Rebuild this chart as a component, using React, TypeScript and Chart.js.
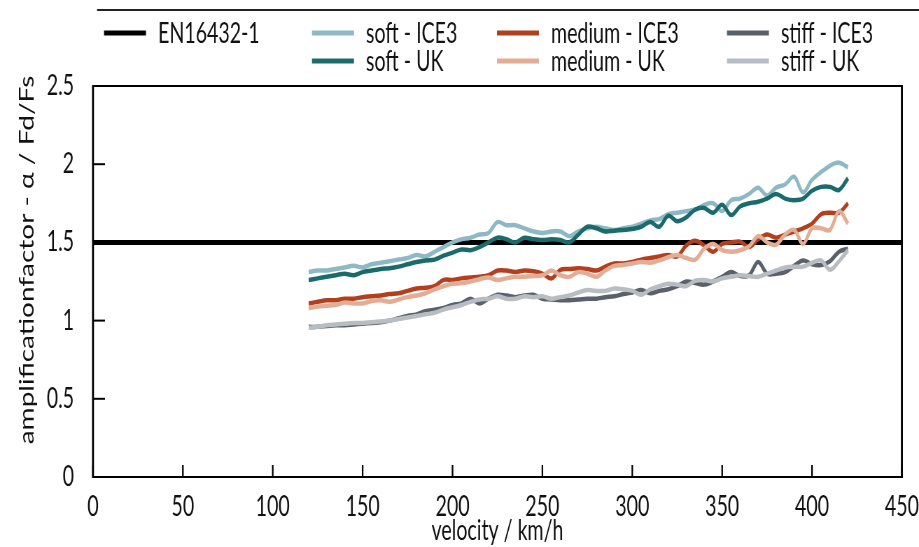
import React, { useEffect, useRef } from "react";
import { Chart, registerables } from "chart.js";

Chart.register(...registerables);

// ---------- data ----------
const velocity = [
  120, 125, 130, 135, 140, 145, 150, 155, 160, 165,
  170, 175, 180, 185, 190, 195, 200, 205, 210, 215,
  220, 225, 230, 235, 240, 245, 250, 255, 260, 265,
  270, 275, 280, 285, 290, 295, 300, 305, 310, 315,
  320, 325, 330, 335, 340, 345, 350, 355, 360, 365,
  370, 375, 380, 385, 390, 395, 400, 405, 410, 415, 420,
];

const softICE3 = [
  1.31, 1.32, 1.32, 1.33, 1.34, 1.35, 1.34, 1.36, 1.37, 1.38,
  1.39, 1.40, 1.42, 1.41, 1.44, 1.47, 1.50, 1.52, 1.53, 1.55,
  1.56, 1.63, 1.61, 1.61, 1.59, 1.57, 1.56, 1.57, 1.57, 1.54,
  1.57, 1.59, 1.60, 1.59, 1.58, 1.59, 1.60, 1.62, 1.64, 1.65,
  1.68, 1.69, 1.70, 1.71, 1.74, 1.75, 1.70, 1.77, 1.78, 1.81,
  1.85, 1.80, 1.85, 1.87, 1.92, 1.82, 1.90, 1.95, 1.99, 2.01, 1.98,
];
const softUK = [
  1.26, 1.27, 1.28, 1.29, 1.30, 1.29, 1.31, 1.32, 1.33, 1.335,
  1.345, 1.36, 1.375, 1.385, 1.39, 1.415, 1.435, 1.455, 1.45, 1.47,
  1.50, 1.53, 1.52, 1.50, 1.53, 1.52, 1.515, 1.52, 1.515, 1.50,
  1.55, 1.60, 1.59, 1.57, 1.575, 1.58, 1.585, 1.60, 1.63, 1.60,
  1.67, 1.635, 1.66, 1.71, 1.72, 1.69, 1.74, 1.675, 1.73, 1.75,
  1.76, 1.78, 1.81, 1.78, 1.77, 1.78, 1.83, 1.855, 1.855, 1.835, 1.91,
];
const mediumICE3 = [
  1.11, 1.12, 1.13, 1.13, 1.14, 1.14, 1.15, 1.155, 1.16, 1.17,
  1.175, 1.19, 1.205, 1.21, 1.22, 1.26, 1.26, 1.27, 1.275, 1.28,
  1.29, 1.32, 1.32, 1.31, 1.32, 1.315, 1.30, 1.27, 1.325, 1.33,
  1.335, 1.33, 1.32, 1.345, 1.365, 1.365, 1.375, 1.39, 1.40, 1.41,
  1.42, 1.41, 1.48, 1.51, 1.48, 1.44, 1.49, 1.50, 1.505, 1.47,
  1.52, 1.55, 1.53, 1.55, 1.57, 1.59, 1.62, 1.68, 1.69, 1.69, 1.75,
];
const mediumUK = [
  1.08, 1.09, 1.095, 1.10, 1.115, 1.11, 1.11, 1.125, 1.13, 1.12,
  1.135, 1.15, 1.16, 1.175, 1.20, 1.22, 1.235, 1.24, 1.25, 1.265,
  1.275, 1.26, 1.27, 1.28, 1.28, 1.285, 1.29, 1.32, 1.29, 1.28,
  1.31, 1.30, 1.28, 1.32, 1.35, 1.355, 1.365, 1.375, 1.37, 1.385,
  1.405, 1.42, 1.40, 1.39, 1.46, 1.49, 1.45, 1.44, 1.45, 1.475,
  1.54, 1.50, 1.485, 1.55, 1.58, 1.49, 1.59, 1.59, 1.58, 1.70, 1.62,
];
const stiffICE3 = [
  0.96, 0.96, 0.965, 0.97, 0.97, 0.975, 0.98, 0.985, 0.99, 1.00,
  1.015, 1.03, 1.04, 1.06, 1.07, 1.08, 1.10, 1.11, 1.14, 1.11,
  1.14, 1.165, 1.16, 1.15, 1.16, 1.165, 1.14, 1.135, 1.13, 1.13,
  1.135, 1.14, 1.14, 1.15, 1.155, 1.17, 1.18, 1.195, 1.175, 1.19,
  1.20, 1.22, 1.25, 1.24, 1.23, 1.25, 1.28, 1.31, 1.285, 1.29,
  1.375, 1.30, 1.30, 1.31, 1.35, 1.385, 1.36, 1.355, 1.38, 1.44, 1.46,
];
const stiffUK = [
  0.955, 0.96, 0.97, 0.975, 0.98, 0.985, 0.985, 0.99, 0.995, 1.00,
  1.01, 1.02, 1.03, 1.04, 1.05, 1.07, 1.085, 1.10, 1.12, 1.135,
  1.14, 1.155, 1.14, 1.14, 1.155, 1.15, 1.155, 1.14, 1.15, 1.16,
  1.18, 1.195, 1.19, 1.19, 1.205, 1.20, 1.19, 1.165, 1.20, 1.22,
  1.235, 1.23, 1.22, 1.255, 1.26, 1.25, 1.27, 1.28, 1.29, 1.285,
  1.28, 1.30, 1.32, 1.34, 1.345, 1.345, 1.37, 1.385, 1.325, 1.38, 1.45,
];

const enVelocity = [0, 450];
const enValues = [1.5, 1.5];

const xTicks = [0, 50, 100, 150, 200, 250, 300, 350, 400, 450];
const yTicks = [0, 0.5, 1, 1.5, 2, 2.5];
const yTickLabels = ["0", "0.5", "1", "1.5", "2", "2.5"];

const seriesNames = [
  "EN16432-1",
  "soft - ICE3",
  "medium - ICE3",
  "stiff - ICE3",
  "soft - UK",
  "medium - UK",
  "stiff - UK",
];
const seriesColors = [
  "#000000",
  "#8EB9C4",
  "#B2401E",
  "#59616A",
  "#1B6B6C",
  "#E3AC94",
  "#B8BDC2",
];
const seriesValues = [enValues, softICE3, mediumICE3, stiffICE3, softUK, mediumUK, stiffUK];

// ---------- layout ----------
const W = 919;
const H = 547;
const K = 0.7; // horizontal compression of the drawing
const VW = Math.round(W / K);
const FONT = "Lato, 'Open Sans', sans-serif";
const FS = 28;
const TXT = "#111111";

const App: React.FC = () => {
  const ref = useRef<HTMLCanvasElement | null>(null);

  useEffect(() => {
    document.body.style.margin = "0";
    const canvas = ref.current;
    if (!canvas) return;

    const pts = (xs: number[], ys: number[]) => xs.map((x, i) => ({ x, y: ys[i] }));

    const datasets = seriesValues.map((vals, i) => ({
      label: seriesNames[i],
      data: i === 0 ? pts(enVelocity, vals) : pts(velocity, vals),
      borderColor: seriesColors[i],
      backgroundColor: seriesColors[i],
      borderWidth: i === 0 ? 5 : 4.5,
      pointRadius: 0,
      tension: i === 0 ? 0 : 0.35,
      fill: false,
      order: i === 0 ? 3 : i <= 3 ? 2 : 1,
    }));

    const frame = {
      id: "frameAndLegend",
      afterDraw(chart: any) {
        const { ctx, chartArea: a, scales } = chart;
        const xs = scales.x;
        const ys = scales.y;
        const line = (x1: number, y1: number, x2: number, y2: number) => {
          ctx.beginPath();
          ctx.moveTo(x1, y1);
          ctx.lineTo(x2, y2);
          ctx.stroke();
        };
        ctx.save();
        ctx.strokeStyle = "#000";
        ctx.lineCap = "butt";
        // frame
        ctx.lineWidth = 2;
        line(a.left, a.top, a.right, a.top);
        line(a.left, a.bottom, a.right, a.bottom);
        ctx.lineWidth = 2 / K;
        line(a.left, a.top - 1, a.left, a.bottom + 1);
        line(a.right, a.top - 1, a.right, a.bottom + 1);
        // inward ticks
        ctx.lineWidth = 2;
        ys.ticks.forEach((t: any) => {
          const py = ys.getPixelForValue(t.value);
          line(a.left, py, a.left + 12 / K, py);
        });
        ctx.lineWidth = 1.6 / K;
        xs.ticks.forEach((t: any) => {
          const px = xs.getPixelForValue(t.value);
          line(px, a.bottom, px, a.bottom - 12);
        });

        // axis titles
        ctx.fillStyle = TXT;
        ctx.font = `${FS}px ${FONT}`;
        ctx.textAlign = "center";
        ctx.textBaseline = "middle";
        ctx.fillText("velocity / km/h", (a.left + a.right) / 2, 531);
        ctx.save();
        ctx.translate(27 / K, 260);
        ctx.rotate(-Math.PI / 2);
        ctx.fillText("amplificationfactor - \u03b1 / Fd/Fs", 0, 0);
        ctx.restore();

        // legend top rule
        ctx.lineWidth = 2;
        ctx.strokeStyle = "#222";
        line(97 / K, 10, VW, 10);

        // legend entries
        const cols = [104, 312, 497, 727];
        const rows = [33, 61];
        const slots = [
          [0, 0], [1, 0], [2, 0], [3, 0],
          [1, 1], [2, 1], [3, 1],
        ];
        ctx.textAlign = "left";
        slots.forEach(([c, r], i) => {
          const x0 = cols[c] / K;
          const yy = rows[r];
          ctx.strokeStyle = seriesColors[i];
          ctx.lineWidth = 5;
          line(x0, yy, x0 + 42 / K, yy);
          ctx.fillStyle = TXT;
          ctx.fillText(seriesNames[i], x0 + 54 / K, yy + 1);
        });
        ctx.restore();
      },
    };

    const chart = new Chart(canvas, {
      type: "line",
      data: { datasets: datasets as any },
      options: {
        responsive: false,
        devicePixelRatio: 1,
        animation: false,
        layout: { padding: { left: 0, right: VW - 902 / K, top: 86, bottom: 0 } },
        plugins: { legend: { display: false }, tooltip: { enabled: false } },
        scales: {
          x: {
            type: "linear",
            min: 0,
            max: 450,
            afterBuildTicks(scale: any) {
              scale.ticks = xTicks.map((v) => ({ value: v }));
            },
            grid: { display: false },
            border: { display: false },
            ticks: {
              padding: 5,
              maxRotation: 0,
              autoSkip: false,
              color: TXT,
              font: { family: FONT, size: FS },
              callback: (v: any) => String(v),
            },
            afterFit(scale: any) {
              scale.height = 70;
              scale.paddingLeft = 0;
              scale.paddingRight = 0;
            },
          },
          y: {
            type: "linear",
            min: 0,
            max: 2.5,
            afterBuildTicks(scale: any) {
              scale.ticks = yTicks.map((v) => ({ value: v }));
            },
            grid: { display: false },
            border: { display: false },
            ticks: {
              padding: 19,
              color: TXT,
              font: { family: FONT, size: FS },
              callback: (v: any) => {
                const i = yTicks.indexOf(Number(v));
                return i >= 0 ? yTickLabels[i] : String(v);
              },
            },
            afterFit(scale: any) {
              scale.width = 93 / K;
            },
          },
        },
      },
      plugins: [frame],
    } as any);

    return () => chart.destroy();
  }, []);

  return (
    <div style={{ position: "relative", width: W, height: H, overflow: "hidden" }}>
      <canvas
        ref={ref}
        width={VW}
        height={H}
        style={{ width: `${W}px`, height: `${H}px`, display: "block" }}
      />
    </div>
  );
};

export default App;
